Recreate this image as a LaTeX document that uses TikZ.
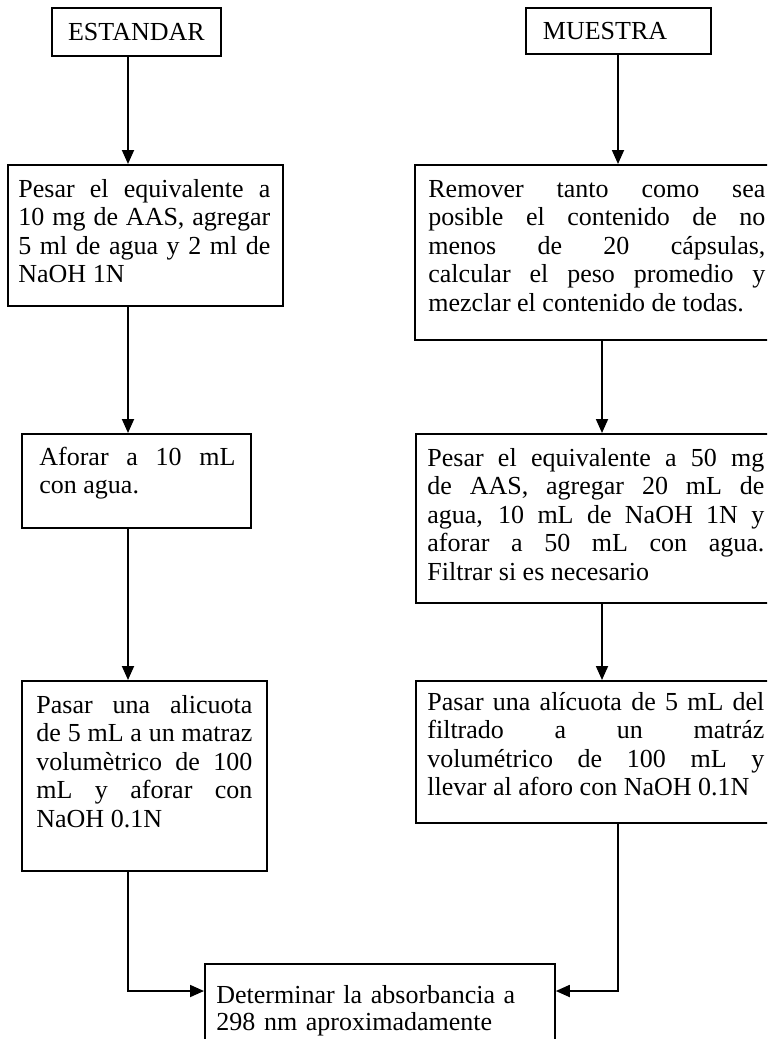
\documentclass[tikz,border=0pt]{standalone}
\usepackage{fontspec}
\setmainfont{Liberation Serif}
\usetikzlibrary{arrows.meta,calc}
\begin{document}
\begin{tikzpicture}[x=0.5pt,y=-0.5pt,
  box/.style={draw, line width=0.9pt, rectangle, inner sep=0pt, anchor=north west},
  lbl/.style={font=\fontsize{13}{14.25}\selectfont},
  txt/.style={inner sep=0pt, anchor=base west, align=justify, font=\fontsize{13}{14.25}\selectfont, execute at begin node={\hyphenpenalty=10000\relax}},
  arr/.style={line width=0.9pt, -{Triangle[length=7pt,width=6pt]}}]
\useasboundingbox (0,0) rectangle (767,1039);
\clip (0,0) rectangle (767,1039);
% header boxes
\node[box, lbl, minimum width=84.5pt, minimum height=24pt] (est) at (51,7) {ESTANDAR};
\node[box, lbl, minimum width=92.5pt, minimum height=23pt, text width=75.5pt, inner xsep=8.5pt, align=left] (mue) at (525,7) {MUESTRA};
% left column
\node[box, minimum width=137.5pt, minimum height=70.5pt] (l1) at (7,164) {};
\node[box, minimum width=114.5pt, minimum height=47pt] (l2) at (21,433) {};
\node[box, minimum width=122.5pt, minimum height=95pt] (l3) at (21,680) {};
% right column
\node[box, minimum width=185.5pt, minimum height=87.5pt] (r1) at (414,164) {};
\node[box, minimum width=185pt, minimum height=84.5pt] (r2) at (415,433) {};
\node[box, minimum width=185pt, minimum height=71pt] (r3) at (415,680) {};
% bottom
\node[box, minimum width=175pt, minimum height=50pt] (bot) at (204,963) {};
% texts
\node[txt, text width=126pt] (l1t) at ($(l1.north west)+(11,33)$) {Pesar el equivalente a\linebreak 10 mg de AAS, agregar\linebreak 5 ml de agua y 2 ml de\linebreak NaOH 1N};
\node[txt, text width=98pt] (l2t) at ($(l2.north west)+(18,32)$) {Aforar a 10 mL\linebreak con agua.};
\node[txt, text width=108pt] (l3t) at ($(l3.north west)+(15,33)$) {Pasar una alicuota\linebreak de 5 mL a un matraz\linebreak volumètrico de 100\linebreak mL y aforar con\linebreak NaOH 0.1N};
\node[txt, text width=168.5pt] (r1t) at ($(r1.north west)+(14,33)$) {Remover tanto como sea\linebreak posible el contenido de no\linebreak menos de 20 cápsulas,\linebreak calcular el peso promedio y\linebreak mezclar el contenido de todas.};
\node[txt, text width=168.5pt] (r2t) at ($(r2.north west)+(12,33)$) {Pesar el equivalente a 50 mg\linebreak de AAS, agregar 20 mL de\linebreak agua, 10 mL de NaOH 1N y\linebreak aforar a 50 mL con agua.\linebreak Filtrar si es necesario};
\node[txt, text width=168.5pt] (r3t) at ($(r3.north west)+(12,30)$) {Pasar una alícuota de 5 mL del\linebreak filtrado a un matráz\linebreak volumétrico de 100 mL y\linebreak llevar al aforo con NaOH 0.1N};
\node[inner sep=0pt, anchor=base west, text width=165pt, align=left, font=\fontsize{13}{13.5}\selectfont] (bt) at ($(bot.north west)+(12,40)$) {Determinar la absorbancia a\\298 nm aproximadamente};
% connectors
\coordinate (cl) at (128,0);
\coordinate (cra) at (618,0);
\coordinate (crb) at (602,0);
\coordinate (cy) at (0,991);
\draw[arr] (est.south -| cl) -- (l1.north -| cl);
\draw[arr] (l1.south -| cl) -- (l2.north -| cl);
\draw[arr] (l2.south -| cl) -- (l3.north -| cl);
\draw[arr] (mue.south -| cra) -- (r1.north -| cra);
\draw[arr] (r1.south -| crb) -- (r2.north -| crb);
\draw[arr] (r2.south -| crb) -- (r3.north -| crb);
\draw[arr] (l3.south -| cl) |- (bot.west |- cy);
\draw[arr] (r3.south -| cra) |- (bot.east |- cy);
\end{tikzpicture}
\end{document}
